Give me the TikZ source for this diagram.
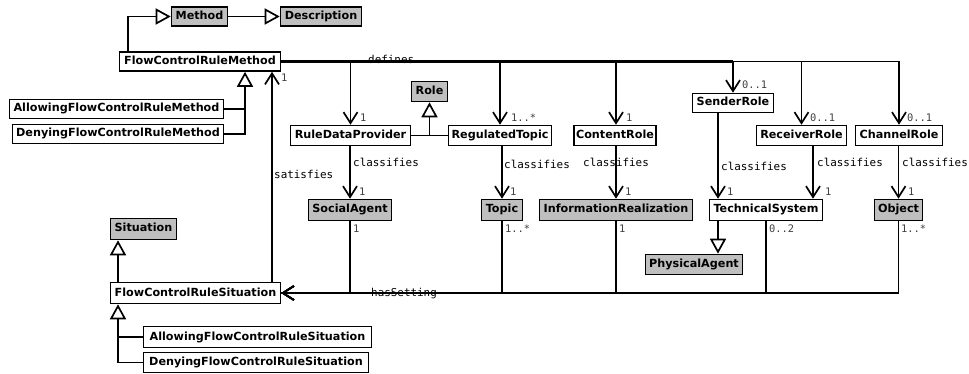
\documentclass[tikz,border=0pt]{standalone}
\usepackage{fontspec}
\setmainfont{DejaVu Sans}
\newfontfamily\labelmono{DejaVu Sans Mono}
\usetikzlibrary{arrows.meta}
\newcommand\boxfont{\fontsize{11.2}{13}\selectfont\bfseries}
\begin{document}
\begin{tikzpicture}[x=1pt,y=-1pt,
  cls/.style={draw, line width=1.6pt, fill=white, inner sep=0pt,
    minimum height=19pt, text height=8.4pt, text depth=2.4pt, font=\boxfont},
  base/.style={cls, fill=gray!50},
  conn/.style={line width=1.7pt},
  thickconn/.style={line width=2.7pt},
  assoc/.style={conn, -{Straight Barb[length=11pt,width=14pt,line width=1.7pt]}},
  gen/.style={conn, -{Triangle[length=15pt,width=16pt,fill=white,line width=1.7pt]}},
  lbl/.style={inner sep=0pt, font=\labelmono\fontsize{10.9}{12}\selectfont},
  mult/.style={inner sep=0pt, text=black!75, font=\labelmono\fontsize{10.4}{12}\selectfont}]
\useasboundingbox (0,0) rectangle (969,374);

% classes
\node[base, minimum width=56pt] (method) at (199.5,16.5) {Method};
\node[base, minimum width=81pt] (desc) at (321,16.5) {Description};
\node[cls, minimum width=161pt] (fcrm) at (200,61.5) {FlowControlRuleMethod};
\node[cls, minimum width=214pt] (allowM) at (116.5,109) {AllowingFlowControlRuleMethod};
\node[cls, minimum width=211pt] (denyM) at (118,134) {DenyingFlowControlRuleMethod};
\node[base, minimum width=36pt, minimum height=20pt] (role) at (429.5,91.5) {Role};
\node[cls, minimum width=120pt, minimum height=20pt] (rdp) at (350.5,135.5) {RuleDataProvider};
\node[cls, minimum width=103pt, minimum height=20pt] (rt) at (500,135.5) {RegulatedTopic};
\node[cls, minimum width=82pt, minimum height=20pt] (content) at (615,135.5) {ContentRole};
\node[cls, minimum width=81pt] (sender) at (733,103) {SenderRole};
\node[cls, minimum width=90pt, minimum height=20pt] (receiver) at (801.5,135.5) {ReceiverRole};
\node[cls, minimum width=87pt, minimum height=20pt] (channel) at (899,135.5) {ChannelRole};
\node[base, minimum width=83pt, minimum height=21pt] (social) at (350,210) {SocialAgent};
\node[base, minimum width=41pt, minimum height=21pt] (topic) at (502,210) {Topic};
\node[base, minimum width=153pt, minimum height=21pt] (inforeal) at (616,210) {InformationRealization};
\node[cls, minimum width=113pt, minimum height=21pt] (techsys) at (766,210) {TechnicalSystem};
\node[base, minimum width=48pt, minimum height=21pt] (object) at (898.5,210) {Object};
\node[base, minimum width=97pt, minimum height=20pt] (phys) at (694,264.5) {PhysicalAgent};
\node[base, minimum width=66pt, minimum height=21pt] (situation) at (143.5,229) {Situation};
\node[cls, minimum width=170pt, minimum height=21pt] (fcrs) at (195.5,293) {FlowControlRuleSituation};
\node[cls, minimum width=228pt, minimum height=21pt] (allowS) at (257.5,337) {AllowingFlowControlRuleSituation};
\node[cls, minimum width=225pt, minimum height=20pt] (denyS) at (256,362.5) {DenyingFlowControlRuleSituation};

% vertical tracks
\coordinate (mx) at (128,0);
\coordinate (gx) at (245,0);
\coordinate (sx) at (272,0);
\coordinate (ux) at (118,0);
\coordinate (tl) at (718,0);
\coordinate (tr) at (813,0);

% association labels
\node[lbl, anchor=base west] (ldefines) at (368,63.5) {defines};
\node[lbl, anchor=base west] (lhas) at (371,296) {hasSetting};
\node[lbl, anchor=west] (lsat) at (274,174) {satisfies};
\node[lbl, anchor=west] (lc1) at (353,162) {classifies};
\node[lbl, anchor=west] (lc2) at (504,164) {classifies};
\node[lbl] (lc3) at (616,162) {classifies};
\node[lbl, anchor=west] (lc4) at (721,166) {classifies};
\node[lbl, anchor=west] (lc5) at (817,162) {classifies};
\node[lbl, anchor=west] (lc6) at (902,162) {classifies};

% generalisations
\draw[gen] (fcrm.north -| mx) |- (method.west);
\draw[gen] (method.east) -- (desc.west);
\draw[conn] (allowM.east) -- (allowM.east -| gx);
\draw[gen] (denyM.east) -| (fcrm.south -| gx);
\draw[conn] (rdp.east) -- (rt.west);
\draw[gen] (rdp.east -| role.south) -- (role.south);
\draw[gen] (tl |- techsys.south) -- (tl |- phys.north);
\draw[gen] (fcrs.north -| ux) -- (situation.south -| ux);
\draw[conn] (allowS.west) -- (allowS.west -| ux);
\draw[gen] (denyS.west) -| (fcrs.south -| ux);

% satisfies
\draw[assoc] (fcrs.north -| sx) -- (fcrm.south -| sx);

% defines
\draw[thickconn] (fcrm.east) -- (fcrm.east -| sender.north);
\draw[conn] (fcrm.east -| sender.north) -- (fcrm.east -| channel.north);
\draw[assoc] (fcrm.east) -| (rdp.north);
\draw[assoc] (fcrm.east) -| (rt.north);
\draw[assoc] (fcrm.east) -| ([xshift=1pt]content.north);
\draw[assoc] (fcrm.east) -| (sender.north);
\draw[assoc] (fcrm.east) -| (receiver.north);
\draw[assoc] (fcrm.east) -| (channel.north);

% classifies
\draw[assoc] (social.north |- rdp.south) -- (social.north);
\draw[assoc] (topic.north |- rt.south) -- (topic.north);
\draw[assoc] (inforeal.north |- content.south) -- (inforeal.north);
\draw[assoc] (tl |- sender.south) -- (tl |- techsys.north);
\draw[assoc] (tr |- receiver.south) -- (tr |- techsys.north);
\draw[assoc] (object.north |- channel.south) -- (object.north);

% hasSetting
\draw[thickconn] (fcrs.east) -- (fcrs.east -| techsys.south);
\draw[conn] (fcrs.east -| techsys.south) -- (fcrs.east -| object.south);
\draw[assoc] (social.south) |- (fcrs.east);
\draw[assoc] (topic.south) |- (fcrs.east);
\draw[assoc] (inforeal.south) |- (fcrs.east);
\draw[assoc] (techsys.south) |- (fcrs.east);
\draw[assoc] (object.south) |- (fcrs.east);

% multiplicities
\node[mult, anchor=west] (m0) at (281,78) {1};
\node[mult, anchor=west] (m1) at (360,118) {1};
\node[mult, anchor=west] (m2) at (511,118) {1..*};
\node[mult, anchor=west] (m3) at (626,118) {1};
\node[mult, anchor=west] (m4) at (742,85) {0..1};
\node[mult, anchor=west] (m5) at (810,118) {0..1};
\node[mult, anchor=west] (m6) at (907,118) {0..1};
\node[mult, anchor=west] (m7) at (359,192) {1};
\node[mult, anchor=west] (m8) at (510,192) {1};
\node[mult, anchor=west] (m9) at (625,192) {1};
\node[mult, anchor=west] (m10) at (727,192) {1};
\node[mult, anchor=west] (m11) at (825,192) {1};
\node[mult, anchor=west] (m12) at (908,192) {1};
\node[mult, anchor=west] (m13) at (353,229) {1};
\node[mult, anchor=west] (m14) at (505,229) {1..*};
\node[mult, anchor=west] (m15) at (619,229) {1};
\node[mult, anchor=west] (m16) at (769,229) {0..2};
\node[mult, anchor=west] (m17) at (901,229) {1..*};
\end{tikzpicture}
\end{document}
